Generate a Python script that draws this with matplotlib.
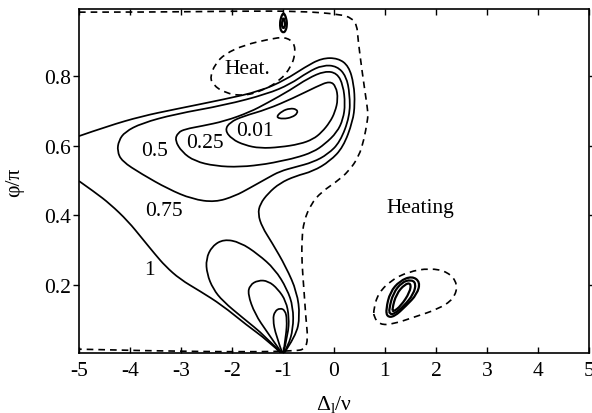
import matplotlib
matplotlib.use("Agg")
import matplotlib.pyplot as plt
from matplotlib.path import Path
from matplotlib.patches import PathPatch

plt.rcParams['font.family'] = ['Liberation Serif', 'DejaVu Serif']
plt.rcParams['mathtext.fontset'] = 'custom'
plt.rcParams['mathtext.rm'] = 'Liberation Serif'
plt.rcParams['mathtext.it'] = 'Liberation Serif:italic'
plt.rcParams['axes.unicode_minus'] = False

# ---- digitised contour lines (x = Delta_l/nu, y = phi/pi) ----
# outer solid line, upper part: upper tail -> round the heart -> down into the cusp at (-1, 0)
outerA_x = [-5.0, -4.43, -3.77, -3.12, -2.14, -1.45, -0.96, -0.57, -0.24, 0.08, 0.29, 0.39, 0.41, 0.37,
            0.18, -0.08, -0.41, -0.76, -1.06, -1.29, -1.45, -1.49, -1.41, -1.22, -0.94, -0.725, -0.667,
            -0.745, -1.0]
outerA_y = [0.628, 0.657, 0.685, 0.705, 0.734, 0.757, 0.789, 0.826, 0.852, 0.852, 0.829, 0.777, 0.720, 0.671,
            0.596, 0.556, 0.527, 0.513, 0.493, 0.464, 0.433, 0.404, 0.367, 0.323, 0.252, 0.18, 0.111,
            0.054, 0.0]
# lower tail: cusp -> left edge
outerB_x = [-1.0, -1.31, -1.71, -2.20, -2.63, -3.02, -3.31, -3.51, -3.75, -4.04, -4.39, -4.69, -5.0]
outerB_y = [0.0, 0.042, 0.085, 0.143, 0.183, 0.217, 0.255, 0.289, 0.332, 0.384, 0.433, 0.467, 0.499]

c050_x = [-4.25, -4.22, -4.10, -3.77, -3.12, -2.14, -1.31, -0.86, -0.51, -0.22, 0.06, 0.24, 0.31, 0.31,
          0.12, -0.12, -0.41, -0.76, -1.06, -1.31, -1.65, -1.94, -2.33, -2.78, -3.25, -3.77, -4.16, -4.25]
c050_y = [0.585, 0.615, 0.640, 0.665, 0.691, 0.717, 0.749, 0.777, 0.812, 0.832, 0.829, 0.800, 0.749, 0.685,
          0.611, 0.576, 0.553, 0.539, 0.527, 0.507, 0.479, 0.456, 0.438, 0.447, 0.476, 0.519, 0.556, 0.585]

c025_x = [-3.12, -3.06, -2.92, -2.59, -2.14, -1.65, -1.31, -0.86, -0.51, -0.18, 0.06, 0.18, 0.22, 0.18,
          0.06, -0.18, -0.41, -0.76, -1.06, -1.31, -1.84, -2.33, -2.73, -2.98, -3.12]
c025_y = [0.616, 0.638, 0.648, 0.657, 0.671, 0.697, 0.723, 0.760, 0.794, 0.815, 0.809, 0.774, 0.720, 0.677,
          0.639, 0.605, 0.582, 0.565, 0.556, 0.548, 0.539, 0.542, 0.556, 0.582, 0.616]

c001_x = [-2.14, -2.04, -1.78, -1.31, -0.80, -0.33, -0.08, 0.04, 0.08, 0.02, -0.08, -0.24, -0.41, -0.67,
          -1.06, -1.45, -1.75, -2.0, -2.14]
c001_y = [0.645, 0.668, 0.685, 0.705, 0.737, 0.771, 0.786, 0.771, 0.734, 0.697, 0.668, 0.639, 0.619, 0.605,
          0.596, 0.593, 0.602, 0.619, 0.645]

core_x = [-1.14, -1.02, -0.86, -0.73, -0.71, -0.82, -1.0, -1.14]
core_y = [0.682, 0.700, 0.708, 0.705, 0.694, 0.682, 0.677, 0.682]

# lobes hanging from the cusp at (-1, 0)
lobe1_x = [-1.0, -1.35, -1.78, -2.18, -2.37, -2.49, -2.51, -2.39, -2.16, -1.84, -1.49, -1.16, -0.92, -0.80,
           -0.80, -0.90, -1.0]
lobe1_y = [0.0, 0.054, 0.105, 0.154, 0.189, 0.232, 0.275, 0.312, 0.332, 0.323, 0.289, 0.246, 0.189, 0.137,
           0.074, 0.025, 0.0]
lobe2_x = [-1.0, -1.31, -1.55, -1.69, -1.65, -1.49, -1.29, -1.10, -0.94, -0.88, -0.90, -1.0]
lobe2_y = [0.0, 0.065, 0.117, 0.174, 0.200, 0.214, 0.212, 0.189, 0.154, 0.108, 0.059, 0.0]
lobe3_x = [-1.0, -1.14, -1.20, -1.16, -1.06, -0.96, -0.92, -0.94, -1.0]
lobe3_y = [0.0, 0.056, 0.102, 0.125, 0.134, 0.128, 0.102, 0.054, 0.0]

# small drop at the top edge
drop1_x = [-0.99, -0.93, -0.92, -0.95, -0.99, -1.04, -1.06, -1.05, -0.99]
drop1_y = [0.985, 0.965, 0.945, 0.930, 0.925, 0.930, 0.945, 0.965, 0.985]
drop2_x = [-0.99, -0.96, -0.96, -0.99, -1.02, -1.02, -0.99]
drop2_y = [0.970, 0.955, 0.943, 0.937, 0.943, 0.955, 0.970]

# island near (1.3, 0.17)
isl1_x = [1.02, 1.10, 1.29, 1.53, 1.69, 1.63, 1.41, 1.18, 1.04, 1.02]
isl1_y = [0.131, 0.180, 0.212, 0.226, 0.209, 0.174, 0.140, 0.109, 0.109, 0.131]
isl2_x = [1.08, 1.16, 1.33, 1.51, 1.61, 1.56, 1.37, 1.18, 1.09, 1.08]
isl2_y = [0.131, 0.177, 0.208, 0.216, 0.205, 0.174, 0.140, 0.117, 0.117, 0.131]
isl3_x = [1.14, 1.22, 1.39, 1.51, 1.49, 1.31, 1.16, 1.14]
isl3_y = [0.131, 0.174, 0.203, 0.206, 0.180, 0.140, 0.123, 0.131]

# dashed heating boundaries
heat_x = [-5.0, -3.61, -1.84, -0.67, 0.12, 0.35, 0.45, 0.47, 0.55, 0.63, 0.67, 0.65, 0.59, 0.49, 0.29,
          0.04, -0.25, -0.45, -0.59, -0.63, -0.63, -0.59, -0.55, -0.51, -0.57, -0.76, -1.65, -3.61, -5.0]
heat_y = [0.984, 0.984, 0.987, 0.987, 0.978, 0.967, 0.947, 0.907, 0.815, 0.734, 0.691, 0.668, 0.619, 0.570,
          0.527, 0.496, 0.467, 0.433, 0.384, 0.332, 0.266, 0.189, 0.103, 0.045, 0.016, 0.011, 0.008, 0.011,
          0.016]
heat2_x = [-2.43, -2.33, -2.14, -1.75, -1.25, -0.96, -0.78, -0.76, -0.84, -1.06, -1.41, -1.78, -2.14,
           -2.37, -2.43]
heat2_y = [0.798, 0.835, 0.864, 0.890, 0.907, 0.913, 0.896, 0.864, 0.827, 0.787, 0.758, 0.743, 0.752,
           0.775, 0.798]
heat3_x = [0.78, 0.86, 1.10, 1.45, 1.88, 2.24, 2.43, 2.35, 2.04, 1.59, 1.16, 0.90, 0.78, 0.78]
heat3_y = [0.131, 0.174, 0.212, 0.238, 0.249, 0.238, 0.203, 0.160, 0.131, 0.109, 0.088, 0.086, 0.109, 0.131]

labels = ['0.01', '0.25', '0.5', '0.75', '1', 'Heat.', 'Heating']
label_x = [-1.55, -2.53, -3.51, -3.33, -3.61, -1.69, 1.69]
label_y = [0.645, 0.611, 0.588, 0.413, 0.246, 0.823, 0.424]


def mid(a, b):
    return ((a[0] + b[0]) / 2, (a[1] + b[1]) / 2)


def smooth_path(xs, ys, closed):
    pts = list(zip(xs, ys))
    if closed:
        pts = pts[:-1]
        n = len(pts)
        verts = [mid(pts[-1], pts[0])]
        codes = [Path.MOVETO]
        for i in range(n):
            verts += [pts[i], mid(pts[i], pts[(i + 1) % n])]
            codes += [Path.CURVE3, Path.CURVE3]
        return Path(verts, codes)
    verts = [pts[0]]
    codes = [Path.MOVETO]
    for i in range(1, len(pts) - 2):
        verts += [pts[i], mid(pts[i], pts[i + 1])]
        codes += [Path.CURVE3, Path.CURVE3]
    verts += [pts[-2], pts[-1]]
    codes += [Path.CURVE3, Path.CURVE3]
    return Path(verts, codes)


def draw(ax, xs, ys, closed, **kw):
    ax.add_patch(PathPatch(smooth_path(xs, ys, closed), facecolor='none', edgecolor='black', **kw))


fig = plt.figure(figsize=(5.92, 4.14), dpi=100)
ax = fig.add_axes([0.1334, 0.1449, 0.8615, 0.8309])

for xs, ys in [(outerA_x, outerA_y), (outerB_x, outerB_y),
               (lobe1_x, lobe1_y), (lobe2_x, lobe2_y), (lobe3_x, lobe3_y)]:
    draw(ax, xs, ys, False, lw=1.25)
for xs, ys in [(c050_x, c050_y), (c025_x, c025_y), (c001_x, c001_y), (core_x, core_y)]:
    draw(ax, xs, ys, True, lw=1.25)
for xs, ys in [(drop1_x, drop1_y), (drop2_x, drop2_y), (isl1_x, isl1_y), (isl2_x, isl2_y), (isl3_x, isl3_y)]:
    draw(ax, xs, ys, True, lw=1.6)

draw(ax, heat_x, heat_y, False, lw=1.2, linestyle=(0, (4, 3)))
for xs, ys in [(heat2_x, heat2_y), (heat3_x, heat3_y)]:
    draw(ax, xs, ys, True, lw=1.2, linestyle=(0, (4, 3)))

for t, x, y in zip(labels, label_x, label_y):
    ax.text(x, y, t, fontsize=15.5, ha='center', va='center')

ax.set_xlim(-5, 5)
ax.set_ylim(0.005, 0.993)
ax.set_xticks(range(-5, 6))
ax.set_xticklabels([str(v) for v in range(-5, 6)])
ax.set_yticks([0.2, 0.4, 0.6, 0.8])
ax.set_yticklabels(['0.2', '0.4', '0.6', '0.8'])
ax.tick_params(axis='both', labelsize=15.5, direction='in', length=4, width=1,
               top=True, right=True, pad=6)
ax.tick_params(axis='y', which='both', direction='out', left=True, pad=2)
ax.tick_params(axis='y', right=True)
for s in ax.spines.values():
    s.set_linewidth(1.2)

ax.set_xlabel(r'$\mathrm{\Delta_l/\nu}$', fontsize=15.5, labelpad=9)
ax.set_ylabel('φ/π', fontsize=15.5, labelpad=14)

fig.savefig('out.png', dpi=100)
